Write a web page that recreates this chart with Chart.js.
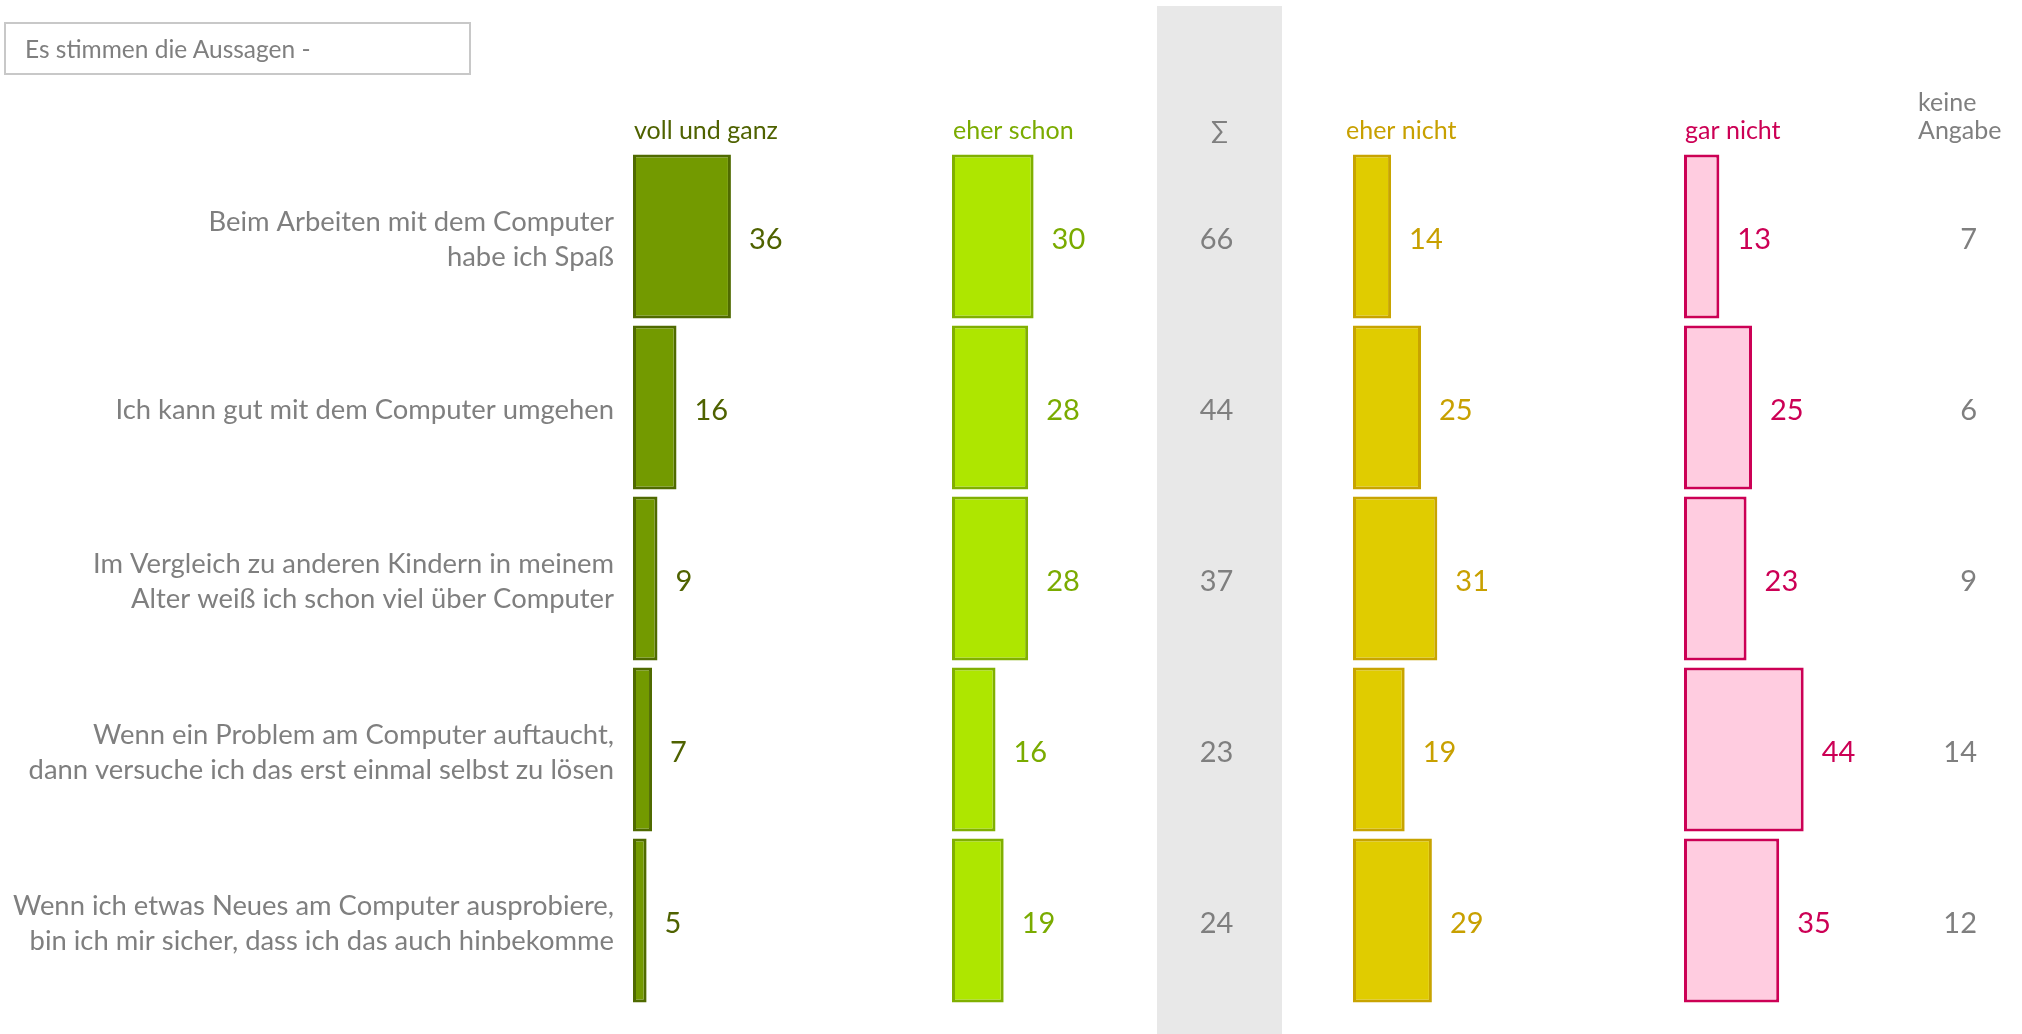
<!DOCTYPE html>
<html>
<head>
<meta charset="utf-8">
<script src="https://cdn.jsdelivr.net/npm/chart.js@4/dist/chart.umd.min.js"></script>
<style>
  html, body { margin: 0; padding: 0; background: #fff; }
  #wrap { position: relative; width: 2022px; height: 1034px; }
  #chart { position: absolute; left: 0; top: 0; }
  #note {
    position: absolute; left: 4px; top: 22px; width: 467px; height: 53px;
    box-sizing: border-box; border: 2px solid #c8c8c8;
    font-family: Lato, sans-serif; font-size: 24.5px; color: #7f7f7f;
    padding-left: 19px; line-height: 49px;
  }
</style>
</head>
<body>
<div id="wrap">
  <canvas id="chart" width="2022" height="1034"></canvas>
  <div id="note">Es stimmen die Aussagen -</div>
</div>
<script>
// statements (rows)
const statements = [
  ['Beim Arbeiten mit dem Computer', 'habe ich Spaß'],
  'Ich kann gut mit dem Computer umgehen',
  ['Im Vergleich zu anderen Kindern in meinem', 'Alter weiß ich schon viel über Computer'],
  ['Wenn ein Problem am Computer auftaucht,', 'dann versuche ich das erst einmal selbst zu lösen'],
  ['Wenn ich etwas Neues am Computer ausprobiere,', 'bin ich mir sicher, dass ich das auch hinbekomme']
];
const answerLabels = ['voll und ganz', 'eher schon', 'eher nicht', 'gar nicht'];

// percent values
const vollUndGanz = [36, 16, 9, 7, 5];
const eherSchon = [30, 28, 28, 16, 19];
const eherNicht = [14, 25, 31, 19, 29];
const garNicht = [13, 25, 23, 44, 35];
const summe = [66, 44, 37, 23, 24];
const keineAngabe = [7, 6, 9, 14, 12];

const PX = 2.72; // pixels per percent point
const FONT = 'Lato';
const GREY = '#7f7f7f';

// one hidden x axis per column, laid side by side through the stack option
function colScale(width, lead) {
  return {
    type: 'linear', position: 'bottom', stack: 'cols', stackWeight: width,
    display: false, min: -lead / PX, max: (width - lead) / PX
  };
}

const tablePlugin = {
  id: 'tableText',
  beforeDatasetsDraw(chart) {
    const s = chart.scales.xSum;
    const ctx = chart.ctx;
    ctx.save();
    ctx.fillStyle = '#e8e8e8';
    ctx.fillRect(s.left, 6, s.right - s.left, chart.height - 6);
    ctx.restore();
  },
  afterDatasetsDraw(chart) {
    const { ctx, scales } = chart;
    const y = scales.y;
    const headY = 131;
    const dy = 3;
    ctx.save();
    ctx.textBaseline = 'middle';

    chart.data.datasets.forEach((ds, i) => {
      const sc = scales[ds.xAxisID];
      ctx.fillStyle = ds.textColor;
      ctx.textAlign = 'left';
      ctx.font = '25px ' + FONT;
      ctx.fillText(ds.label, sc.getPixelForValue(0) + ds.headShift, headY);
      ctx.font = '29px ' + FONT;
      chart.getDatasetMeta(i).data.forEach((bar, j) => {
        ctx.fillText(String(ds.data[j]), bar.x + 18, bar.y + dy);
      });
    });

    // sum column
    const s = scales.xSum;
    const cx = (s.left + s.right) / 2;
    ctx.fillStyle = GREY;
    ctx.textAlign = 'center';
    ctx.font = '25px ' + FONT;
    ctx.fillText('∑', cx, headY);
    ctx.font = '29px ' + FONT;
    summe.forEach((v, j) => ctx.fillText(String(v), cx - 3, y.getPixelForValue(j) + dy));

    // no answer column
    const k = scales.xKeine;
    ctx.textAlign = 'left';
    ctx.font = '25px ' + FONT;
    ctx.fillText('keine', k.left + 18, headY - 28);
    ctx.fillText('Angabe', k.left + 18, headY);
    ctx.textAlign = 'right';
    ctx.font = '29px ' + FONT;
    keineAngabe.forEach((v, j) => ctx.fillText(String(v), k.left + 77, y.getPixelForValue(j) + dy));
    ctx.restore();
  }
};

const common = { borderWidth: 3, borderSkipped: false, grouped: false, barPercentage: 0.958, categoryPercentage: 1 };

new Chart(document.getElementById('chart'), {
  type: 'bar',
  data: {
    labels: statements,
    datasets: [
      Object.assign({ label: answerLabels[0], data: vollUndGanz, xAxisID: 'xVoll',
        backgroundColor: '#739a00', borderColor: '#4f6a00', textColor: '#4f6200', headShift: 1 }, common),
      Object.assign({ label: answerLabels[1], data: eherSchon, xAxisID: 'xSchon',
        backgroundColor: '#aee600', borderColor: '#80b000', textColor: '#7aab00', headShift: 1 }, common),
      Object.assign({ label: answerLabels[2], data: eherNicht, xAxisID: 'xNicht',
        backgroundColor: '#e0cc00', borderColor: '#c8a400', textColor: '#c8a000', headShift: -7 }, common),
      Object.assign({ label: answerLabels[3], data: garNicht, xAxisID: 'xGar',
        backgroundColor: '#ffcce0', borderColor: '#cc0055', textColor: '#cc0055', headShift: 1 }, common)
    ]
  },
  options: {
    indexAxis: 'y',
    responsive: false,
    animation: false,
    layout: { padding: { left: 0, right: 0, top: 151, bottom: 28 } },
    plugins: { legend: { display: false }, tooltip: { enabled: false } },
    scales: {
      y: {
        type: 'category',
        position: 'left',
        grid: { display: false, drawTicks: false },
        border: { display: false },
        ticks: { color: GREY, font: { family: FONT, size: 27.4, lineHeight: 1.28 }, padding: 19, autoSkip: false, labelOffset: 3 },
        afterFit(scale) {
          scale.width = 633;
          scale.paddingTop = 0;
          scale.paddingBottom = 0;
        }
      },
      xVoll: colScale(319, 0),
      xSchon: colScale(205, 0),
      xSum: colScale(125, 0),
      xNicht: colScale(402, 71),
      xGar: colScale(216, 0),
      xKeine: colScale(122, 0)
    }
  },
  plugins: [tablePlugin]
});
</script>
</body>
</html>
